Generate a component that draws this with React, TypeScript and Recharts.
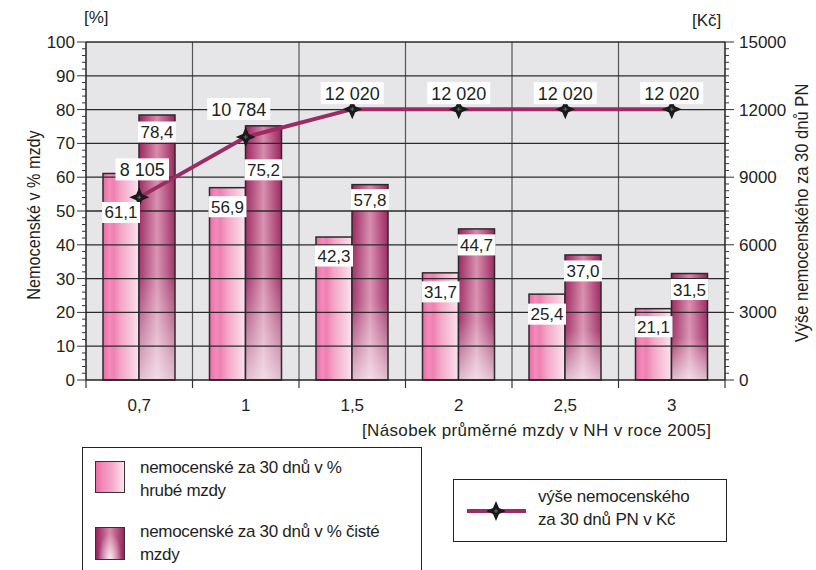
import React from 'react';
import {
  ComposedChart, Bar, Line, XAxis, YAxis, CartesianGrid, ReferenceLine, LabelList,
} from 'recharts';

// ---- data ----
const categories = ['0,7', '1', '1,5', '2', '2,5', '3'];
const grossPct = [61.1, 56.9, 42.3, 31.7, 25.4, 21.1];
const netPct = [78.4, 75.2, 57.8, 44.7, 37.0, 31.5];
const benefitCzk = [8105, 10784, 12020, 12020, 12020, 12020];
const leftMajorTicks = [0, 10, 20, 30, 40, 50, 60, 70, 80, 90, 100];
const rightMajorTicks = [0, 3000, 6000, 9000, 12000, 15000];

const data = categories.map((c, i) => ({
  cat: c, gross: grossPct[i], net: netPct[i], benefit: benefitCzk[i],
}));

// ---- layout / style ----
const W = 816;
const H = 570;
const PLOT_L = 86;
const PLOT_R = 725;
const PLOT_T = 42;
const PLOT_B = 380;
const LEFT_AXIS_W = 60;
const RIGHT_AXIS_W = 70;
const X_AXIS_H = 30;
const BAND = (PLOT_R - PLOT_L) / categories.length;
const FONT = "'Liberation Sans', Arial, Helvetica, sans-serif";
const TXT = '#231f20';
const LINE_COLOR = '#9c2a64';

const leftMinorTicks = Array.from({ length: 51 }, (_, i) => i * 2);
const rightMinorTicks = Array.from({ length: 51 }, (_, i) => i * 300);

// per-label vertical offsets (label box centre below bar top), style only
const grossLabelOffset = [39, 19, 19, 19, 20, 18];
const netLabelOffset = [17, 44, 15, 16, 16, 16];
const lineLabelDx = [3, -7, 0, 0, 0, 0];
const lineLabelDy = [-28, -28, -16, -16, -16, -16];

const fmtPct = (v: number) => v.toFixed(1).replace('.', ',');
const fmtCzk = (v: number) => String(v).replace(/\B(?=(\d{3})+(?!\d))/g, ' ');

const LeftTick = (props: any) => {
  const { x, y, payload } = props;
  const v = payload.value;
  const major = v % 10 === 0;
  const axisX = x + 11;
  return (
    <g>
      <line x1={major ? axisX - 9 : axisX - 4} x2={axisX} y1={y} y2={y} stroke="#333" strokeWidth={1} />
      {major && (
        <text x={x} y={y} dy={6} textAnchor="end" fontSize={17} fontFamily={FONT} fill={TXT}>
          {v}
        </text>
      )}
    </g>
  );
};

const RightTick = (props: any) => {
  const { x, y, payload } = props;
  const v = payload.value;
  const major = v % 3000 === 0;
  const axisX = x - 11;
  return (
    <g>
      <line x1={axisX} x2={major ? axisX + 9 : axisX + 4} y1={y} y2={y} stroke="#333" strokeWidth={1} />
      {major && (
        <text x={x + 3} y={y} dy={6} textAnchor="start" fontSize={17} fontFamily={FONT} fill={TXT}>
          {v}
        </text>
      )}
    </g>
  );
};

const XTick = (props: any) => {
  const { x, y, payload, index } = props;
  const axisY = y - 10;
  const left = x - BAND / 2;
  return (
    <g>
      <line x1={left} x2={left} y1={axisY} y2={axisY + 8} stroke="#333" strokeWidth={1.2} />
      {index === categories.length - 1 && (
        <line x1={x + BAND / 2} x2={x + BAND / 2} y1={axisY} y2={axisY + 8} stroke="#333" strokeWidth={1.2} />
      )}
      <text x={x} y={axisY + 31} textAnchor="middle" fontSize={17} fontFamily={FONT} fill={TXT}>
        {payload.value}
      </text>
    </g>
  );
};

const GrossShape = (props: any) => {
  const { x, y, width, height } = props;
  if (!height || height <= 0) return null;
  return (
    <g>
      <rect x={x} y={y} width={width} height={height} fill="url(#grossGrad)" />
      <rect x={x} y={y} width={width} height={height} fill="none" stroke="#2b2b2b" strokeWidth={1.5} />
    </g>
  );
};

const NetShape = (props: any) => {
  const { x, y, width, height } = props;
  if (!height || height <= 0) return null;
  return (
    <g>
      <rect x={x} y={y} width={width} height={height} fill="url(#netGrad)" />
      <rect x={x} y={y} width={width} height={height} fill="url(#netFade)" />
      <rect x={x} y={y} width={width} height={height} fill="none" stroke="#2b2b2b" strokeWidth={1.5} />
    </g>
  );
};

const makeBarLabel = (offsets: number[]) => (props: any) => {
  const { x, y, width, value, index } = props;
  const cx = x + width / 2;
  const cy = y + offsets[index];
  const text = fmtPct(value);
  const bw = Math.max(width, text.length * 8.5 + 4);
  return (
    <g>
      <rect x={cx - bw / 2} y={cy - 10.5} width={bw} height={21} fill="#fff" />
      <text x={cx} y={cy + 6} textAnchor="middle" fontSize={17} fontFamily={FONT} fill={TXT}>
        {text}
      </text>
    </g>
  );
};

const LineLabel = (props: any) => {
  const { x, y, value, index } = props;
  const cx = x + lineLabelDx[index];
  const cy = y + lineLabelDy[index];
  const text = fmtCzk(value);
  const bw = text.length * 9.5 + 6;
  return (
    <g>
      <rect x={cx - bw / 2} y={cy - 11} width={bw} height={22} fill="#fff" />
      <text x={cx} y={cy + 6.5} textAnchor="middle" fontSize={18} fontFamily={FONT} fill={TXT}>
        {text}
      </text>
    </g>
  );
};

const starPath = (cx: number, cy: number, r: number) => {
  const k = r * 0.3;
  return `M${cx},${cy - r} L${cx + k},${cy - k} L${cx + r},${cy} L${cx + k},${cy + k} L${cx},${cy + r} L${cx - k},${cy + k} L${cx - r},${cy} L${cx - k},${cy - k} Z`;
};

const StarDot = (props: any) => {
  const { cx, cy } = props;
  if (cx == null || cy == null) return null;
  return (
    <g>
      <path d={starPath(cx, cy, 10)} fill="#1a1a1a" />
      <circle cx={cx} cy={cy} r={3.6} fill="#1a1a1a" />
      <line x1={cx - 2} x2={cx + 2} y1={cy} y2={cy} stroke="#777" strokeWidth={0.8} />
      <line x1={cx} x2={cx} y1={cy - 2} y2={cy + 2} stroke="#777" strokeWidth={0.8} />
    </g>
  );
};

const vGen = ({ offset }: any) => {
  const out: number[] = [];
  for (let i = 1; i < categories.length; i++) out.push(offset.left + (offset.width * i) / categories.length);
  return out;
};

const textStyle: React.CSSProperties = {
  position: 'absolute', fontFamily: FONT, fontSize: 17, color: TXT, whiteSpace: 'nowrap', lineHeight: '22px',
};

export default function App() {
  return (
    <div style={{ position: 'absolute', left: 0, top: 0, width: W, height: H, overflow: 'hidden', background: '#fff' }}>
      <ComposedChart
        width={W}
        height={H}
        data={data}
        margin={{
          top: PLOT_T,
          left: PLOT_L - LEFT_AXIS_W,
          right: W - PLOT_R - RIGHT_AXIS_W,
          bottom: H - PLOT_B - X_AXIS_H,
        }}
        barSize={36}
        barGap={0}
      >
        <defs>
          <linearGradient id="grossGrad" x1="0" y1="0" x2="1" y2="0">
            <stop offset="0%" stopColor="#ec6aa5" />
            <stop offset="18%" stopColor="#f28cba" />
            <stop offset="30%" stopColor="#ee80b2" />
            <stop offset="50%" stopColor="#f4a6c7" />
            <stop offset="75%" stopColor="#f7c4da" />
            <stop offset="100%" stopColor="#fbe3ee" />
          </linearGradient>
          <linearGradient id="netGrad" x1="0" y1="0" x2="1" y2="0">
            <stop offset="0%" stopColor="#9a215c" />
            <stop offset="50%" stopColor="#d68bac" />
            <stop offset="100%" stopColor="#9a215c" />
          </linearGradient>
          <linearGradient id="netFade" x1="0" y1="0" x2="0" y2="1">
            <stop offset="0%" stopColor="#ffffff" stopOpacity={0} />
            <stop offset="60%" stopColor="#ffffff" stopOpacity={0.1} />
            <stop offset="100%" stopColor="#ffffff" stopOpacity={0.7} />
          </linearGradient>
        </defs>
        <CartesianGrid
          yAxisId="pct"
          horizontal={false}
          vertical
          verticalCoordinatesGenerator={vGen}
          stroke="#555"
          strokeWidth={1.2}
          fill="#e6e6e8"
          fillOpacity={1}
        />
        <XAxis
          dataKey="cat"
          height={X_AXIS_H}
          interval={0}
          tickSize={8}
          tickMargin={2}
          tickLine={false}
          axisLine={{ stroke: '#222', strokeWidth: 1.5 }}
          tick={<XTick />}
        />
        <YAxis
          yAxisId="pct"
          orientation="left"
          width={LEFT_AXIS_W}
          domain={[0, 100]}
          ticks={leftMinorTicks}
          interval={0}
          tickSize={9}
          tickMargin={2}
          tickLine={false}
          axisLine={{ stroke: '#222', strokeWidth: 1.5 }}
          tick={<LeftTick />}
        />
        <YAxis
          yAxisId="czk"
          orientation="right"
          width={RIGHT_AXIS_W}
          domain={[0, 15000]}
          ticks={rightMinorTicks}
          interval={0}
          tickSize={9}
          tickMargin={2}
          tickLine={false}
          axisLine={{ stroke: '#222', strokeWidth: 1.5 }}
          tick={<RightTick />}
        />
        {leftMajorTicks.slice(1).map((v) => (
          <ReferenceLine key={v} yAxisId="pct" y={v} stroke="#2a2a2a" strokeWidth={1.3} />
        ))}
        <Bar yAxisId="pct" dataKey="gross" isAnimationActive={false} shape={<GrossShape />}>
          <LabelList dataKey="gross" content={makeBarLabel(grossLabelOffset)} />
        </Bar>
        <Bar yAxisId="pct" dataKey="net" isAnimationActive={false} shape={<NetShape />}>
          <LabelList dataKey="net" content={makeBarLabel(netLabelOffset)} />
        </Bar>
        <Line
          yAxisId="czk"
          dataKey="benefit"
          stroke={LINE_COLOR}
          strokeWidth={4}
          dot={<StarDot />}
          activeDot={false}
          isAnimationActive={false}
        >
          <LabelList dataKey="benefit" content={<LineLabel />} />
        </Line>
      </ComposedChart>

      {/* axis units and titles */}
      <div style={{ ...textStyle, left: 84, top: 7 }}>[%]</div>
      <div style={{ ...textStyle, left: 692, top: 10 }}>[Kč]</div>
      <div style={{ ...textStyle, left: 362, top: 420, letterSpacing: 0.35 }}>[Násobek průměrné mzdy v NH v roce 2005]</div>
      <div
        style={{
          ...textStyle, fontSize: 18, left: 34, top: 215, transform: 'translate(-50%, -50%) rotate(-90deg) scaleX(0.9)',
        }}
      >
        Nemocenské v % mzdy
      </div>
      <div
        style={{
          ...textStyle, fontSize: 18, left: 802, top: 213, transform: 'translate(-50%, -50%) rotate(-90deg) scaleX(0.92)',
        }}
      >
        Výše nemocenského za 30 dnů PN
      </div>

      {/* legend: bars */}
      <div
        style={{
          position: 'absolute', left: 82, top: 447, width: 340, height: 140, border: '1.5px solid #222', boxSizing: 'border-box',
        }}
      />
      <div
        style={{
          position: 'absolute', left: 95, top: 461, width: 30, height: 32, border: '1.5px solid #333', boxSizing: 'border-box',
          background: 'linear-gradient(90deg, #ec6aa5 0%, #f28cba 25%, #f4a6c7 55%, #fbe3ee 100%)',
        }}
      />
      <div style={{ ...textStyle, left: 140, top: 457, letterSpacing: -0.3 }}>nemocenské za 30 dnů v %</div>
      <div style={{ ...textStyle, left: 140, top: 480, letterSpacing: -0.3 }}>hrubé mzdy</div>
      <div
        style={{
          position: 'absolute', left: 95, top: 527, width: 30, height: 33, border: '1.5px solid #333', boxSizing: 'border-box',
          background:
            'radial-gradient(ellipse at 50% 100%, rgba(255,255,255,0.8) 0%, rgba(255,255,255,0) 60%), linear-gradient(90deg, #9a215c 0%, #d68bac 50%, #9a215c 100%)',
        }}
      />
      <div style={{ ...textStyle, left: 140, top: 521, letterSpacing: -0.3 }}>nemocenské za 30 dnů v % čisté</div>
      <div style={{ ...textStyle, left: 140, top: 544, letterSpacing: -0.3 }}>mzdy</div>

      {/* legend: line */}
      <div
        style={{
          position: 'absolute', left: 453, top: 479, width: 274, height: 63, border: '1.5px solid #222', boxSizing: 'border-box',
        }}
      />
      <svg style={{ position: 'absolute', left: 460, top: 495 }} width={75} height={30}>
        <line x1={7} x2={66} y1={16} y2={16} stroke={LINE_COLOR} strokeWidth={4} />
        <StarDot cx={36} cy={16} />
      </svg>
      <div style={{ ...textStyle, left: 538, top: 486, letterSpacing: -0.2 }}>výše nemocenského</div>
      <div style={{ ...textStyle, left: 538, top: 509, letterSpacing: -0.2 }}>za 30 dnů PN v Kč</div>
    </div>
  );
}
